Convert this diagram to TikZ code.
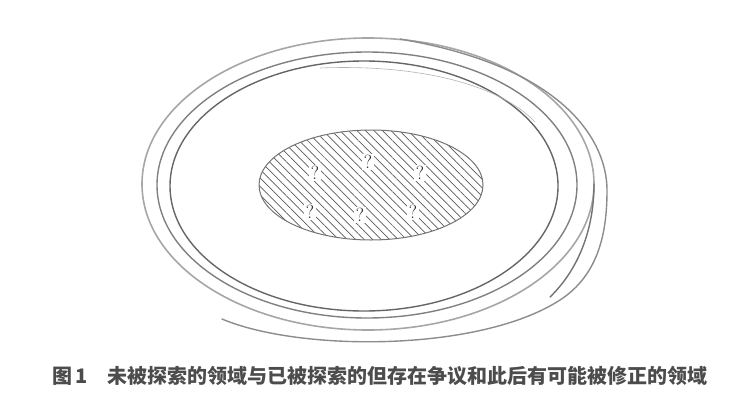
\documentclass[tikz,border=0pt]{standalone}
\usepackage{fontspec}
\newfontfamily\cjk{Noto Sans CJK SC}
\usetikzlibrary{patterns.meta}
\tikzset{
  ring/.style={draw=black!45, line width=1.4pt, line cap=round},
  qmark/.style={fill=white, inner sep=1.5pt, text=black!85, font=\fontsize{19}{19}\selectfont},
}
\begin{document}
\begin{tikzpicture}[x=1pt,y=-1pt]
  \useasboundingbox (0,0) rectangle (754,410);

  % rings
  \draw[ring, draw=black!60] (364,186) ellipse [x radius=194, y radius=125];
  \draw[ring, draw=black!50] (367,185) ellipse [x radius=210, y radius=133];
  \draw[ring, draw=black!35, line width=1.6pt] (368,184) ellipse [x radius=226, y radius=146];
  \draw[draw=black!30, line width=0.6pt] (320,68) .. controls (420,64) and (500,85) .. (535,122);

  % open ends of the spiral
  \draw[ring, draw=black!45] (222,319) .. controls (300,352) and (480,352) .. (560,300)
        .. controls (600,274) and (607,230) .. (607,190)
        .. controls (607,145) and (570,68) .. (400,39);
  \draw[ring, draw=black!55] (550,297) .. controls (578,270) and (594,230) .. (594,184);

  % explored field
  \draw[draw=black!55, line width=1pt, pattern={Lines[angle=-45, distance=6pt, line width=0.7pt]},
        pattern color=black!65] (371,185) ellipse [x radius=112, y radius=55];

  \node[qmark] (q1) at (315,173) {?};
  \node[qmark] (q2) at (368,162) {?};
  \node[qmark] (q3) at (420,173) {?};
  \node[qmark] (q4) at (310,212) {?};
  \node[qmark] (q5) at (360,215) {?};
  \node[qmark] (q6) at (413,212) {?};

  \node[font=\cjk\bfseries\fontsize{20}{20}\selectfont, text=black!70] (caption) at (380,376)
        {图\,1\hspace{1em}未被探索的领域与已被探索的但存在争议和此后有可能被修正的领域};
\end{tikzpicture}
\end{document}
